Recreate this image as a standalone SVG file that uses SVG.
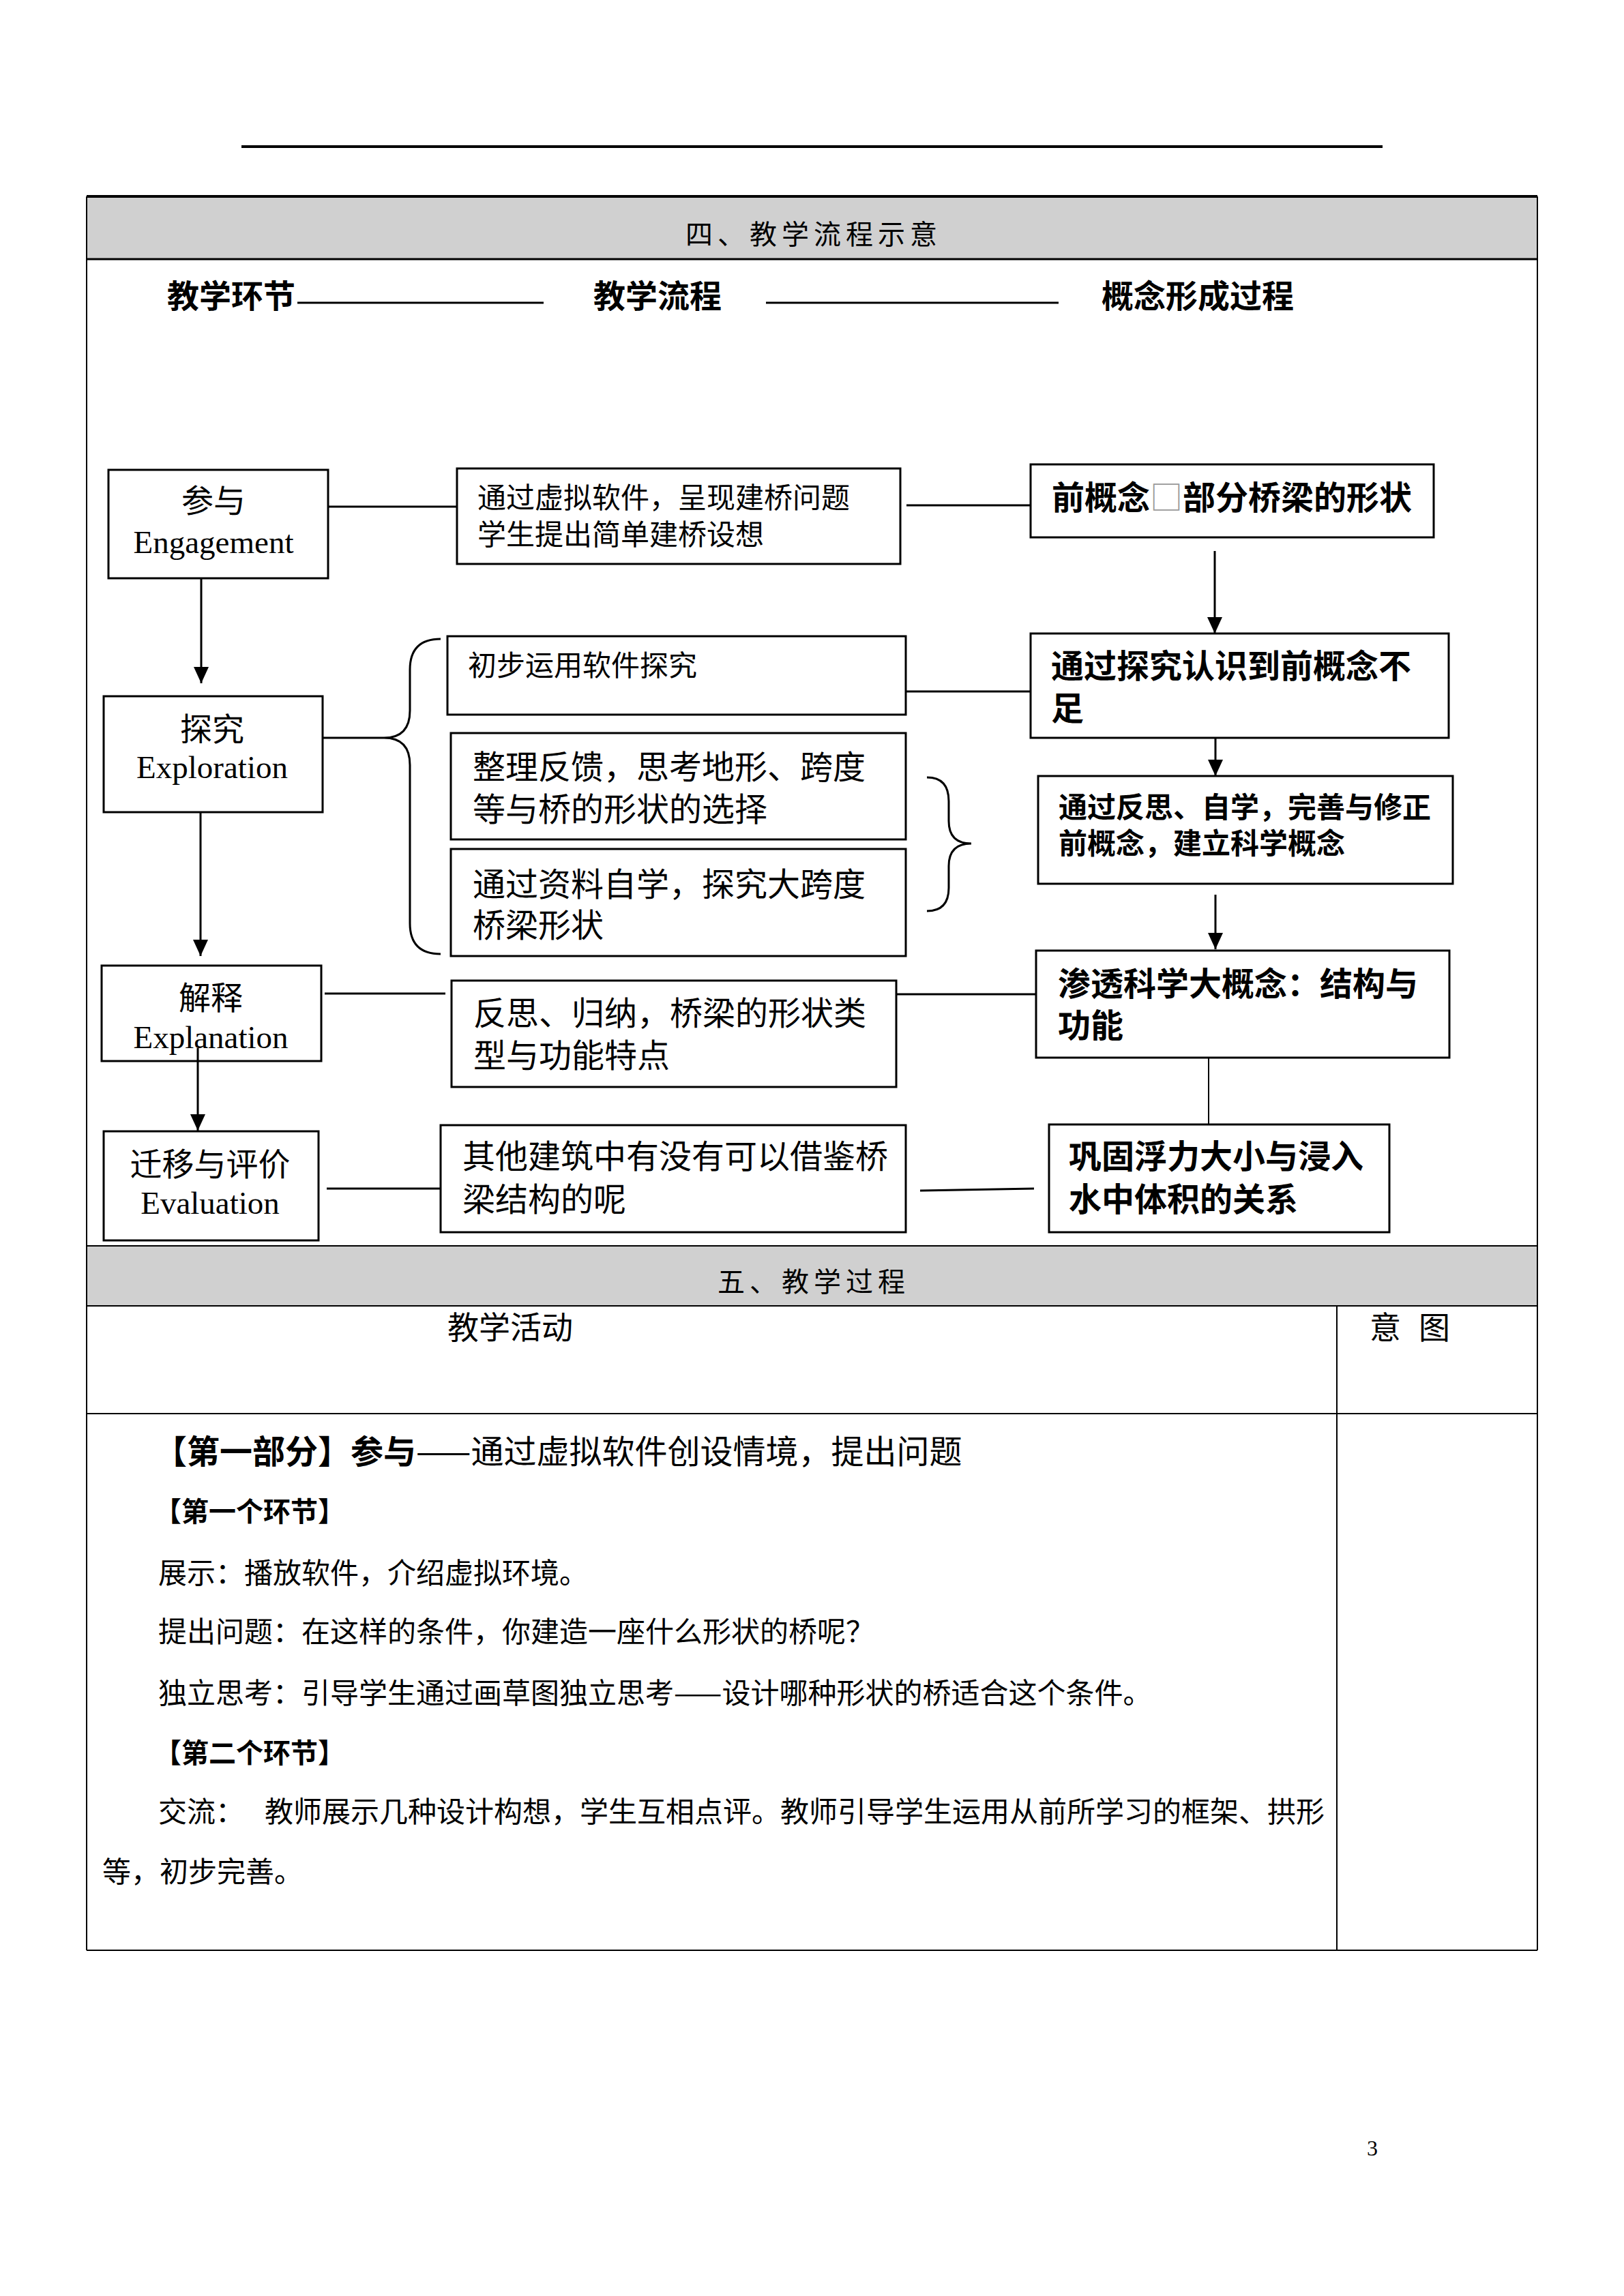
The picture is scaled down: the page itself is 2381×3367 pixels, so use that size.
<svg xmlns="http://www.w3.org/2000/svg" width="2381" height="3367" viewBox="0 0 2381 3367">
<style>
.box{fill:#fff;stroke:#000;stroke-width:3}
.ln{fill:none;stroke:#000;stroke-width:3}
.tb{fill:none;stroke:#000;stroke-width:2}
.cn{font-family:"Noto Sans CJK SC","Noto Sans",sans-serif;fill:#000}
.en{font-family:"Liberation Serif","Noto Sans CJK SC",serif;fill:#000}
.b{font-weight:bold}
.f42{font-size:42px}
.f48{font-size:48px}
.f47{font-size:47px}
.hd{font-size:40px;letter-spacing:7px}
</style>
<defs>
<marker id="ah" markerUnits="userSpaceOnUse" markerWidth="24" markerHeight="22" viewBox="0 0 24 22" refX="24" refY="11" orient="auto">
<path d="M0,0 L24,11 L0,22 z" fill="#000"/>
</marker>
</defs>
<rect width="2381" height="3367" fill="#fff"/>
<line x1="354" y1="215" x2="2027" y2="215" stroke="#000" stroke-width="4"/>

<g id="table1">
<rect x="127" y="288" width="2127" height="92" fill="#d0d0d0"/>
<line x1="127" y1="288" x2="2254" y2="288" stroke="#000" stroke-width="4"/>
<line x1="127" y1="380" x2="2254" y2="380" stroke="#000" stroke-width="3"/>
<line x1="127" y1="288" x2="127" y2="1827" class="tb"/>
<line x1="2254" y1="288" x2="2254" y2="1827" class="tb"/>
<text x="1193" y="358" text-anchor="middle" class="cn hd">四、教学流程示意</text>
</g>

<g id="headings">
<text x="245" y="451" class="cn b f47">教学环节</text>
<line x1="436" y1="444" x2="797" y2="444" stroke="#000" stroke-width="3"/>
<text x="870" y="451" class="cn b f47">教学流程</text>
<line x1="1123" y1="444" x2="1552" y2="444" stroke="#000" stroke-width="3"/>
<text x="1615" y="451" class="cn b f47">概念形成过程</text>
</g>

<g id="connectors">
<line x1="481" y1="743" x2="670" y2="743" class="ln"/>
<line x1="1329" y1="741" x2="1511" y2="741" class="ln"/>
<line x1="473" y1="1082" x2="563" y2="1082" class="ln"/>
<line x1="1328" y1="1014" x2="1511" y2="1014" class="ln"/>
<line x1="476" y1="1457" x2="653" y2="1457" class="ln"/>
<line x1="1307" y1="1458" x2="1519" y2="1458" class="ln"/>
<line x1="479" y1="1743" x2="645" y2="1743" class="ln"/>
<line x1="1349" y1="1746" x2="1516" y2="1743" class="ln"/>
<line x1="1772" y1="1551" x2="1772" y2="1649" stroke="#000" stroke-width="2"/>
<line x1="295" y1="849" x2="295" y2="1002" class="ln" marker-end="url(#ah)"/>
<line x1="294" y1="1191" x2="294" y2="1402" class="ln" marker-end="url(#ah)"/>
<line x1="1781" y1="808" x2="1781" y2="929" class="ln" marker-end="url(#ah)"/>
<line x1="1782" y1="1082" x2="1782" y2="1138" class="ln" marker-end="url(#ah)"/>
<line x1="1782" y1="1312" x2="1782" y2="1392" class="ln" marker-end="url(#ah)"/>
<path d="M646,937 Q601,937 601,982 L601,1042 Q601,1082 563,1082 Q601,1082 601,1122 L601,1354 Q601,1399 646,1399" class="ln"/>
<path d="M1359,1140 Q1391,1140 1391,1175 L1391,1204 Q1391,1237 1424,1237 Q1391,1237 1391,1270 L1391,1302 Q1391,1336 1359,1336" class="ln"/>
</g>

<g id="n-engagement">
<rect x="159" y="689" width="322" height="159" class="box"/>
<text x="313" y="751" text-anchor="middle" class="cn f47">参与</text>
<text x="313" y="811" text-anchor="middle" class="en f47">Engagement</text>
</g>
<g id="n-flow1">
<rect x="670" y="687" width="650" height="140" class="box"/>
<text x="700" y="745" class="cn f42">通过虚拟软件，呈现建桥问题</text>
<text x="700" y="799" class="cn f42">学生提出简单建桥设想</text>
</g>
<g id="n-concept1">
<rect x="1511" y="681" width="591" height="107" class="box"/>
<text x="1542" y="747" class="cn b f48">前概念<tspan font-weight="normal" fill="#999">□</tspan>部分桥梁的形状</text>
</g>

<g id="n-exploration">
<rect x="152" y="1021" width="321" height="170" class="box"/>
<text x="311" y="1086" text-anchor="middle" class="cn f47">探究</text>
<text x="311" y="1141" text-anchor="middle" class="en f47">Exploration</text>
</g>
<g id="n-flow2a">
<rect x="656" y="933" width="672" height="115" class="box"/>
<text x="686" y="991" class="cn f42">初步运用软件探究</text>
</g>
<g id="n-flow2b">
<rect x="661" y="1075" width="667" height="156" class="box"/>
<text x="693" y="1142" class="cn f48">整理反馈，思考地形、跨度</text>
<text x="693" y="1204" class="cn f48">等与桥的形状的选择</text>
</g>
<g id="n-flow2c">
<rect x="661" y="1245" width="667" height="157" class="box"/>
<text x="693" y="1314" class="cn f48">通过资料自学，探究大跨度</text>
<text x="693" y="1374" class="cn f48">桥梁形状</text>
</g>
<g id="n-concept2">
<rect x="1511" y="929" width="613" height="153" class="box"/>
<text x="1541" y="994" class="cn b f48">通过探究认识到前概念不</text>
<text x="1541" y="1056" class="cn b f48">足</text>
</g>
<g id="n-concept3">
<rect x="1522" y="1138" width="608" height="158" class="box"/>
<text x="1552" y="1199" class="cn b f42">通过反思、自学，完善与修正</text>
<text x="1552" y="1252" class="cn b f42">前概念，建立科学概念</text>
</g>

<g id="n-explanation">
<rect x="149" y="1416" width="322" height="140" class="box"/>
<text x="309" y="1480" text-anchor="middle" class="cn f47">解释</text>
<text x="309" y="1537" text-anchor="middle" class="en f47">Explanation</text>
</g>
<g id="n-flow3">
<rect x="662" y="1438" width="652" height="156" class="box"/>
<text x="694" y="1503" class="cn f48">反思、归纳，桥梁的形状类</text>
<text x="694" y="1565" class="cn f48">型与功能特点</text>
</g>
<g id="n-concept4">
<rect x="1519" y="1394" width="606" height="157" class="box"/>
<text x="1551" y="1460" class="cn b f48">渗透科学大概念：结构与</text>
<text x="1551" y="1521" class="cn b f48">功能</text>
</g>

<g id="arrow-expl-eval">
<line x1="290" y1="1537" x2="290" y2="1658" class="ln" marker-end="url(#ah)"/>
</g>

<g id="n-evaluation">
<rect x="152" y="1659" width="315" height="160" class="box"/>
<text x="308" y="1724" text-anchor="middle" class="cn f47">迁移与评价</text>
<text x="308" y="1780" text-anchor="middle" class="en f47">Evaluation</text>
</g>
<g id="n-flow4">
<rect x="646" y="1650" width="682" height="157" class="box"/>
<text x="678" y="1713" class="cn f48">其他建筑中有没有可以借鉴桥</text>
<text x="678" y="1776" class="cn f48">梁结构的呢</text>
</g>
<g id="n-concept5">
<rect x="1538" y="1649" width="499" height="158" class="box"/>
<text x="1567" y="1713" class="cn b f48">巩固浮力大小与浸入</text>
<text x="1567" y="1776" class="cn b f48">水中体积的关系</text>
</g>

<g id="table2">
<rect x="127" y="1827" width="2127" height="88" fill="#d0d0d0"/>
<line x1="127" y1="1827" x2="2254" y2="1827" class="tb"/>
<line x1="127" y1="1915" x2="2254" y2="1915" class="tb"/>
<line x1="127" y1="2073" x2="2254" y2="2073" class="tb"/>
<line x1="127" y1="2860" x2="2254" y2="2860" class="tb"/>
<line x1="127" y1="1827" x2="127" y2="2860" class="tb"/>
<line x1="2254" y1="1827" x2="2254" y2="2860" class="tb"/>
<line x1="1960" y1="1915" x2="1960" y2="2860" class="tb"/>
<text x="1193" y="1894" text-anchor="middle" class="cn hd">五、教学过程</text>
<text x="748" y="1963" text-anchor="middle" class="cn" font-size="46">教学活动</text>
<text x="2008" y="1963" class="cn" font-size="46">意</text>
<text x="2080" y="1963" class="cn" font-size="46">图</text>
<text x="226" y="2146" class="cn f48"><tspan font-weight="bold">【第一部分】参与</tspan>——通过虚拟软件创设情境，提出问题</text>
<text x="226" y="2231" class="cn b" font-size="40">【第一个环节】</text>
<text x="232" y="2322" class="cn f42">展示：播放软件，介绍虚拟环境。</text>
<text x="232" y="2408" class="cn f42">提出问题：在这样的条件，你建造一座什么形状的桥呢？</text>
<text x="232" y="2498" class="cn f42">独立思考：引导学生通过画草图独立思考——设计哪种形状的桥适合这个条件。</text>
<text x="226" y="2585" class="cn b" font-size="40">【第二个环节】</text>
<text x="232" y="2672" class="cn f42">交流：</text>
<text x="388" y="2672" class="cn f42">教师展示几种设计构想，学生互相点评。教师引导学生运用从前所学习的框架、拱形</text>
<text x="150" y="2760" class="cn f42">等，初步完善。</text>
</g>

<text x="2012" y="3161" text-anchor="middle" class="en" font-size="32">3</text>
</svg>
